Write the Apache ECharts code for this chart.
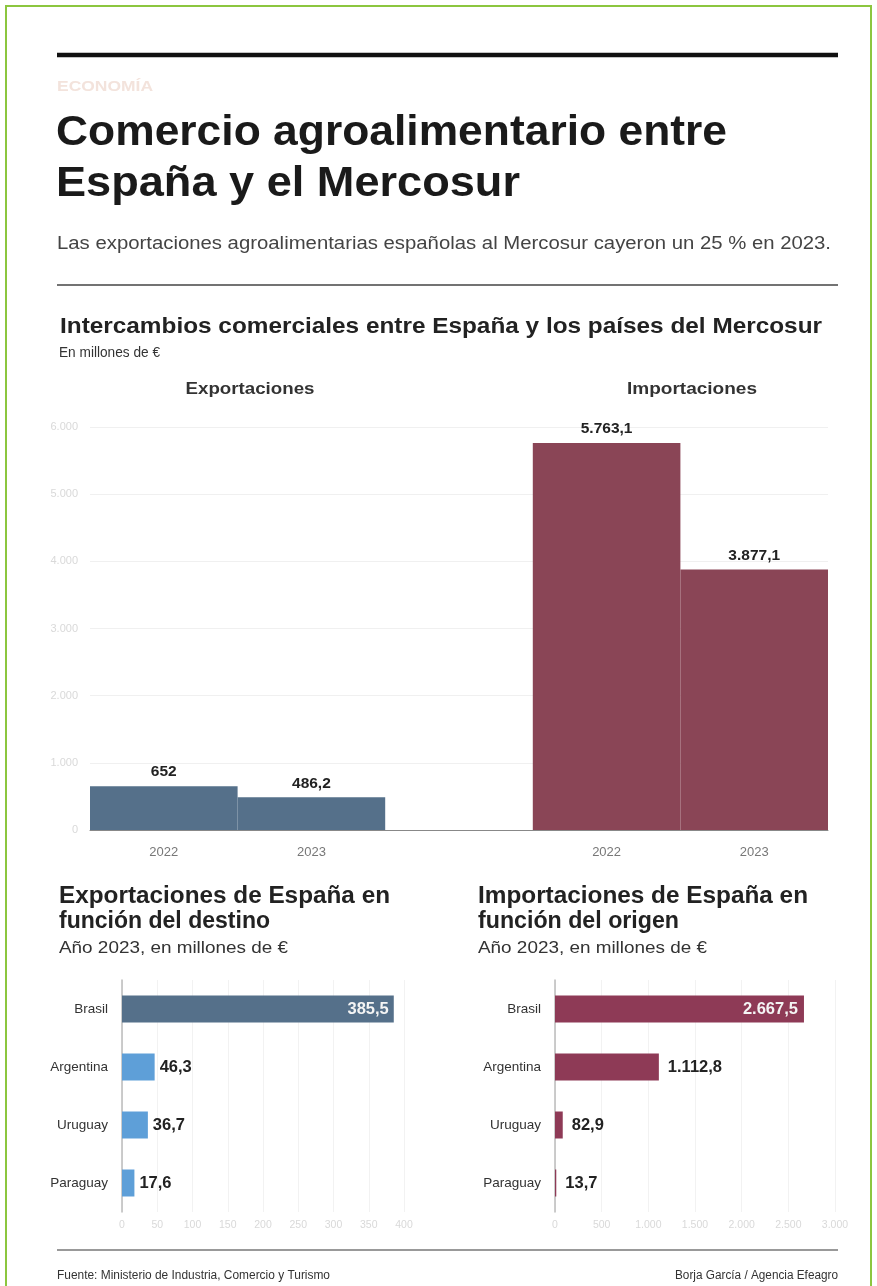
<!DOCTYPE html>
<html>
<head>
<meta charset="utf-8">
<script src="https://cdn.jsdelivr.net/npm/echarts@6/dist/echarts.min.js"></script>
<style>
html,body{margin:0;padding:0;background:#fff;}
#c{width:877px;height:1286px;}
</style>
</head>
<body>
<div id="c"></div>
<script>
// ---- data ----
var topCategories = ['E2022', 'E2023', 'gap', 'I2022', 'I2023'];
var topTickLabels = ['2022', '2023', '', '2022', '2023'];
var exportsTotal = [652, 486.2, null, null, null];
var importsTotal = [null, null, null, 5763.1, 3877.1];
var countries = ['Brasil', 'Argentina', 'Uruguay', 'Paraguay'];
var exportsByDest = [385.5, 46.3, 36.7, 17.6];
var importsByOrigin = [2667.5, 1112.8, 82.9, 13.7];

function fmt(v) {
  if (v == null) return '';
  var s = String(v);
  var parts = s.split('.');
  var ip = parts[0].replace(/\B(?=(\d{3})+(?!\d))/g, '.');
  return parts.length > 1 ? ip + ',' + parts[1] : ip;
}

var FONT = "'Liberation Sans', Arial, sans-serif";
var cExpDark = '#55708a';
var cExpLight = '#5e9fd8';
var cImpTop = '#8a4556';
var cImp = '#8e3a56';

var mctx = document.createElement('canvas').getContext('2d');
function measure(text, font) { mctx.font = font; return mctx.measureText(text).width; }

// text with visual width fitted to the reference
function ftxt(x, y, text, size, weight, color, width, align) {
  var font = (weight || 'normal') + ' ' + size + 'px ' + FONT;
  var s = width ? width / measure(text, font) : 1;
  return {type: 'text', x: x, y: y + size * 0.05, scaleX: s, silent: true,
    style: {text: text, font: font, fill: color || '#222', textAlign: align || 'left', textVerticalAlign: 'middle'}};
}
function hline(x1, x2, y, w, color) {
  return {type: 'line', silent: true, shape: {x1: x1, y1: y, x2: x2, y2: y}, style: {stroke: color, lineWidth: w}};
}

var graphics = [
  {type: 'rect', silent: true, shape: {x: 6, y: 6, width: 865, height: 1300}, style: {fill: 'none', stroke: '#8cc63f', lineWidth: 2}},
  hline(57, 838, 55, 4.5, '#111'),
  ftxt(57, 86, 'ECONOMÍA', 15, 'bold', '#f3e3dc', 96),
  ftxt(56, 131, 'Comercio agroalimentario entre', 42, 'bold', '#1a1a1a', 671),
  ftxt(56, 182, 'España y el Mercosur', 42, 'bold', '#1a1a1a', 464),
  ftxt(57, 243, 'Las exportaciones agroalimentarias españolas al Mercosur cayeron un 25 % en 2023.', 17.5, 'normal', '#444', 774),
  hline(57, 838, 285, 1.3, '#444'),
  ftxt(60, 326, 'Intercambios comerciales entre España y los países del Mercosur', 22.5, 'bold', '#222', 762),
  ftxt(59, 352, 'En millones de €', 15.5, 'normal', '#333', 101),
  ftxt(250, 388, 'Exportaciones', 17, 'bold', '#333', 129, 'center'),
  ftxt(692, 388, 'Importaciones', 17, 'bold', '#333', 130, 'center'),
  ftxt(59, 896, 'Exportaciones de España en', 23, 'bold', '#222', 331),
  ftxt(59, 921, 'función del destino', 23, 'bold', '#222', 211),
  ftxt(59, 948, 'Año 2023, en millones de €', 16.5, 'normal', '#333', 229),
  ftxt(478, 896, 'Importaciones de España en', 23, 'bold', '#222', 330),
  ftxt(478, 921, 'función del origen', 23, 'bold', '#222', 201),
  ftxt(478, 948, 'Año 2023, en millones de €', 16.5, 'normal', '#333', 229),
  hline(57, 838, 1250, 2, '#999'),
  ftxt(57, 1275, 'Fuente: Ministerio de Industria, Comercio y Turismo', 12, 'normal', '#333', 273),
  ftxt(838, 1275, 'Borja García / Agencia Efeagro', 12, 'normal', '#333', 163, 'right')
];

var option = {
  animation: false,
  backgroundColor: '#fff',
  graphic: graphics,
  grid: [
    {left: 90, right: 49, top: 427, bottom: 456, containLabel: false},
    {left: 122, right: 473, top: 980, bottom: 74, containLabel: false},
    {left: 555, right: 42, top: 980, bottom: 74, containLabel: false}
  ],
  xAxis: [
    {gridIndex: 0, type: 'category', data: topCategories,
      axisLine: {show: true, lineStyle: {color: '#888', width: 1}},
      axisTick: {show: false},
      axisLabel: {color: '#777', fontSize: 13, fontFamily: FONT, margin: 16,
        formatter: function (v, i) { return topTickLabels[i]; }}},
    {gridIndex: 1, type: 'value', min: 0, max: 400, interval: 50,
      axisLine: {show: false}, axisTick: {show: false},
      splitLine: {show: true, lineStyle: {color: '#f2f2f2'}},
      axisLabel: {color: '#d9d9d9', fontSize: 10.5, fontFamily: FONT, margin: 8, formatter: fmt}},
    {gridIndex: 2, type: 'value', min: 0, max: 3000, interval: 500,
      axisLine: {show: false}, axisTick: {show: false},
      splitLine: {show: true, lineStyle: {color: '#f2f2f2'}},
      axisLabel: {color: '#d9d9d9', fontSize: 10.5, fontFamily: FONT, margin: 8, formatter: fmt}}
  ],
  yAxis: [
    {gridIndex: 0, type: 'value', min: 0, max: 6000, interval: 1000,
      axisLine: {show: false}, axisTick: {show: false},
      splitLine: {show: true, lineStyle: {color: '#f0f0f0'}},
      axisLabel: {color: '#d9d9d9', fontSize: 11, fontFamily: FONT, margin: 12, formatter: fmt}},
    {gridIndex: 1, type: 'category', data: countries, inverse: true,
      axisLine: {show: true, lineStyle: {color: '#bbb', width: 1.5}},
      axisTick: {show: false},
      axisLabel: {color: '#333', fontSize: 13.5, fontFamily: FONT, margin: 14}},
    {gridIndex: 2, type: 'category', data: countries, inverse: true,
      axisLine: {show: true, lineStyle: {color: '#bbb', width: 1.5}},
      axisTick: {show: false},
      axisLabel: {color: '#333', fontSize: 13.5, fontFamily: FONT, margin: 14}}
  ],
  series: [
    {type: 'bar', xAxisIndex: 0, yAxisIndex: 0, stack: 'top', barWidth: '100%',
      data: exportsTotal, itemStyle: {color: cExpDark},
      label: {show: true, position: 'top', distance: 6, color: '#222', fontWeight: 'bold', fontSize: 15.5, fontFamily: FONT,
        formatter: function (p) { return fmt(p.value); }}},
    {type: 'bar', xAxisIndex: 0, yAxisIndex: 0, stack: 'top', barWidth: '100%',
      data: importsTotal, itemStyle: {color: cImpTop},
      label: {show: true, position: 'top', distance: 6, color: '#222', fontWeight: 'bold', fontSize: 15.5, fontFamily: FONT,
        formatter: function (p) { return fmt(p.value); }}},
    {type: 'bar', xAxisIndex: 1, yAxisIndex: 1, barWidth: 27,
      data: exportsByDest.map(function (v, i) {
        return {value: v, itemStyle: {color: i === 0 ? cExpDark : cExpLight},
          label: i === 0 ? {position: 'insideRight', color: '#f4f4f4', distance: 5} : {position: 'right', color: '#222', distance: 5}};
      }),
      label: {show: true, fontWeight: 'bold', fontSize: 16.5, fontFamily: FONT, formatter: function (p) { return fmt(p.value); }}},
    {type: 'bar', xAxisIndex: 2, yAxisIndex: 2, barWidth: 27,
      data: importsByOrigin.map(function (v, i) {
        return {value: v, itemStyle: {color: cImp},
          label: i === 0 ? {position: 'insideRight', color: '#f4f4f4', distance: 6} : {position: 'right', color: '#222', distance: 9}};
      }),
      label: {show: true, fontWeight: 'bold', fontSize: 16.5, fontFamily: FONT, formatter: function (p) { return fmt(p.value); }}}
  ]
};
var chart = echarts.init(document.getElementById('c'), null, {renderer: 'canvas'});
chart.setOption(option);
</script>
</body>
</html>
